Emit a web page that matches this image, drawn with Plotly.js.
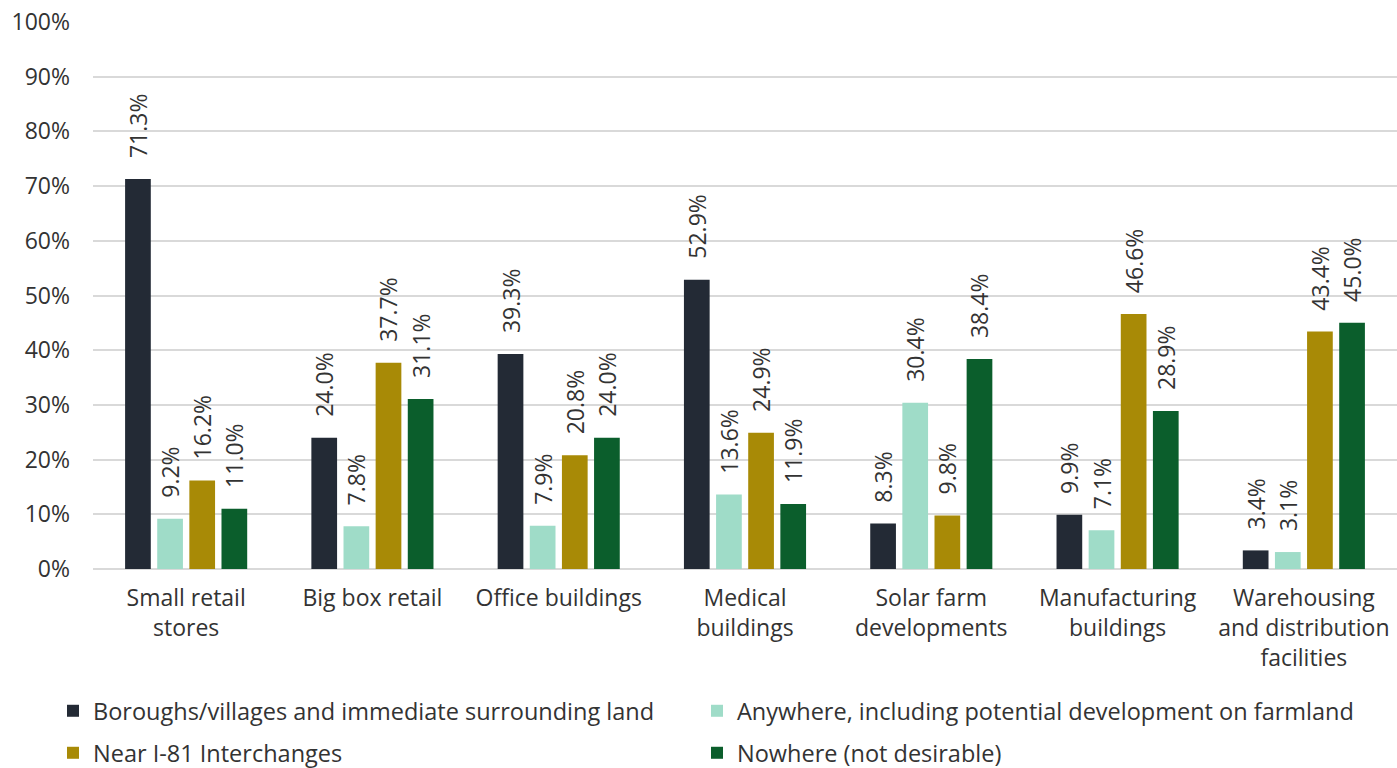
<!DOCTYPE html>
<html><head><meta charset="utf-8">
<script src="https://cdn.plot.ly/plotly-3.0.1.min.js"></script>
<style>html,body{margin:0;padding:0;background:#fff}#chart{width:1397px;height:768px}</style>
</head><body><div id="chart"></div>
<script>
const categories = ["Small retail<br>stores","Big box retail","Office buildings","Medical<br>buildings","Solar farm<br>developments","Manufacturing<br>buildings","Warehousing<br>and distribution<br>facilities"];
const seriesNames = ["Boroughs/villages and immediate surrounding land","Anywhere, including potential development on farmland","Near I-81 Interchanges","Nowhere (not desirable)"];
const boroughs = [71.3, 24.0, 39.3, 52.9, 8.3, 9.9, 3.4];
const anywhere = [9.2, 7.8, 7.9, 13.6, 30.4, 7.1, 3.1];
const nearI81 = [16.2, 37.7, 20.8, 24.9, 9.8, 46.6, 43.4];
const nowhere = [11.0, 31.1, 24.0, 11.9, 38.4, 28.9, 45.0];
const colors = ["#232a35", "#9fdcc8", "#a88a06", "#0b5e2c"];
const values = [boroughs, anywhere, nearI81, nowhere];
const legendIds = ["legend", "legend2", "legend3", "legend4"];
const FONT = "'Open Sans', Lato, sans-serif";
const traces = values.map((v, i) => ({
  type: "bar", x: categories, y: v, name: seriesNames[i],
  marker: {color: colors[i]},
  texttemplate: "\u00a0\u00a0\u00a0%{y:.1f}%", textposition: "outside", textangle: -90,
  constraintext: "none",
  textfont: {family: FONT, size: 23, color: "#333"},
  cliponaxis: false, legend: legendIds[i], hoverinfo: "skip"
}));
const legendBase = {orientation: "h", xref: "container", yref: "container", xanchor: "left", yanchor: "middle",
  font: {family: FONT, size: 23.5, color: "#333"}, itemwidth: 30, bgcolor: "rgba(0,0,0,0)"};
const legendPos = [[53, 711], [697, 711], [53, 753], [697, 753]];
const layout = {
  width: 1397, height: 768,
  margin: {l: 93, r: 0, t: 22, b: 199},
  paper_bgcolor: "#fff", plot_bgcolor: "#fff",
  barmode: "group", bargap: 0.31, bargroupgap: 0.2,
  font: {family: FONT, size: 23, color: "#333"},
  showlegend: true,
  xaxis: {tickfont: {family: FONT, size: 23, color: "#333"}, showline: false, ticks: "", showgrid: false, ticklabelstandoff: 13},
  yaxis: {range: [0, 100], dtick: 10, ticksuffix: "%", tickfont: {family: FONT, size: 23, color: "#333"},
    gridcolor: "#d9d9d9", gridwidth: 2, zeroline: true, zerolinecolor: "#d9d9d9", zerolinewidth: 2, ticks: "", ticklabelstandoff: 22}
};
legendIds.forEach((id, i) => {
  layout[id] = Object.assign({}, legendBase, {x: legendPos[i][0] / 1397, y: 1 - legendPos[i][1] / 768});
});
Plotly.newPlot("chart", traces, layout, {displayModeBar: false, staticPlot: true});
</script></body></html>
